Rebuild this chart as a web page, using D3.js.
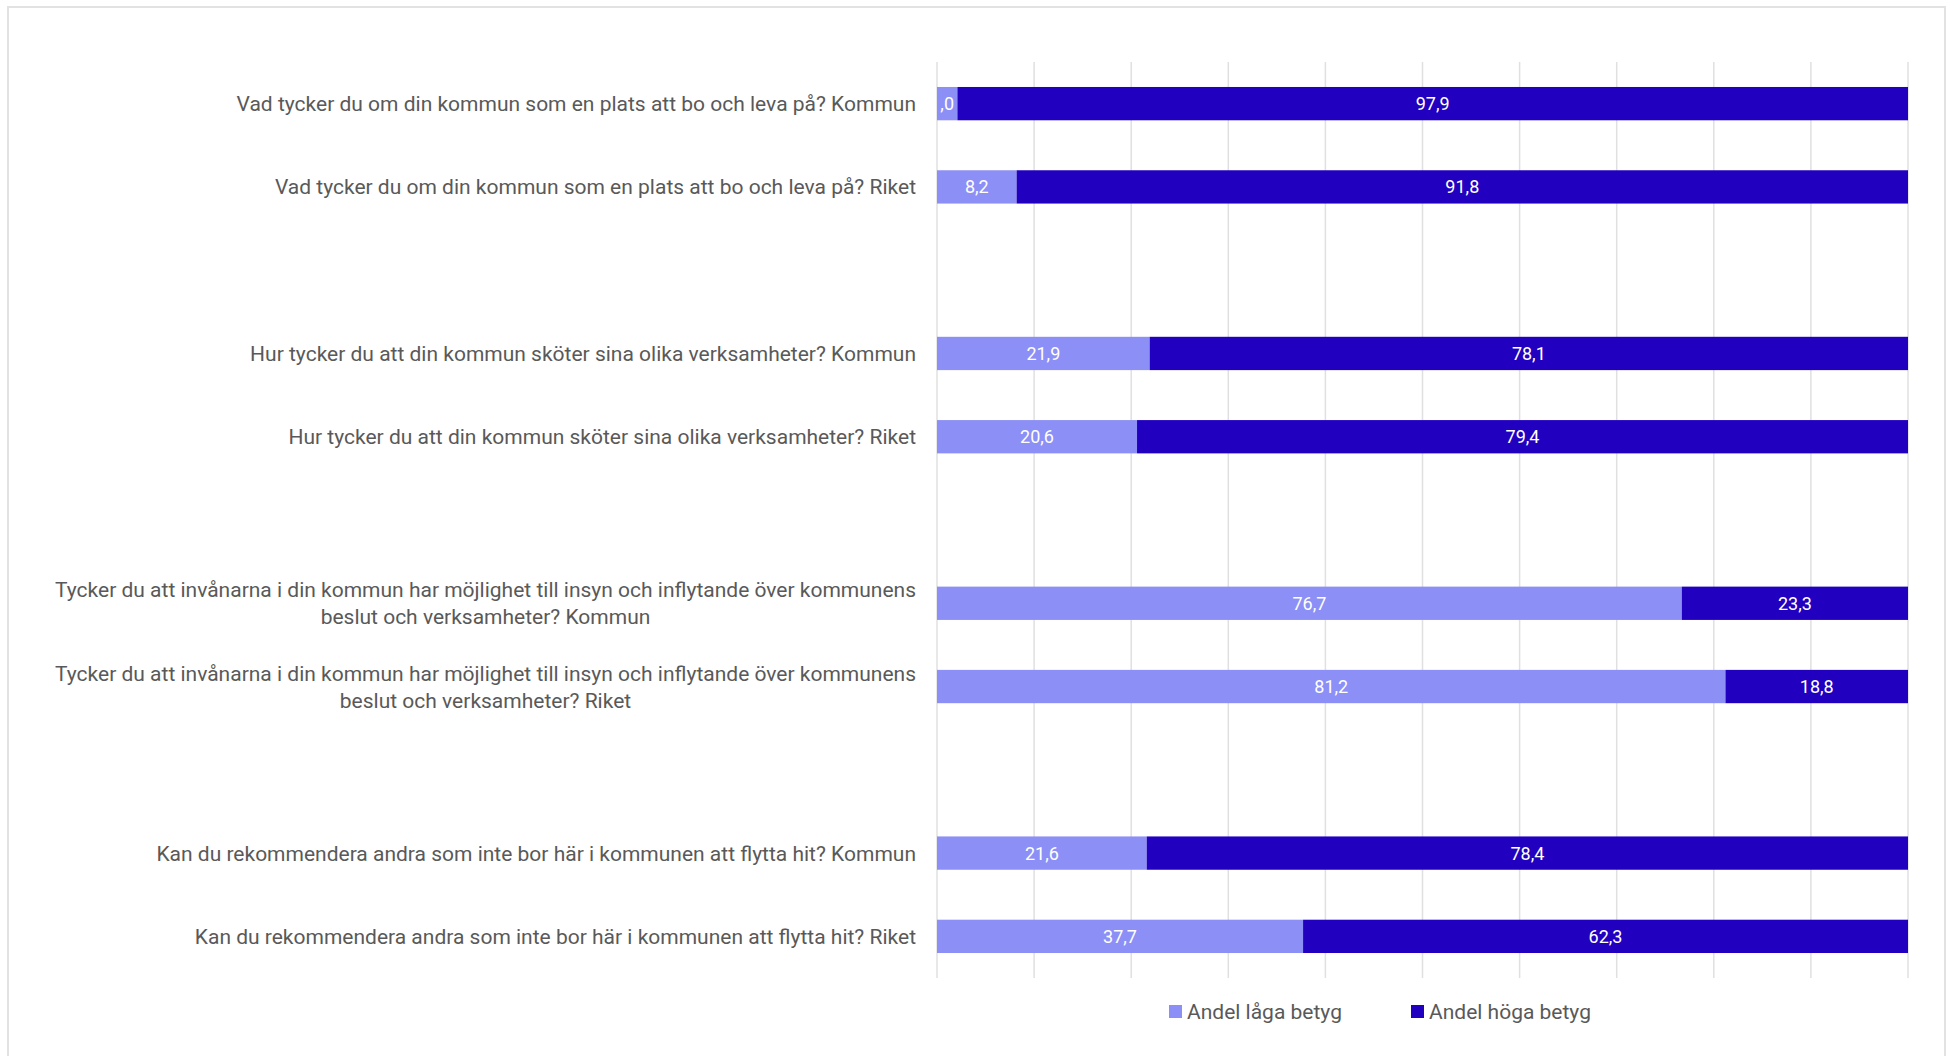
<!DOCTYPE html>
<html>
<head>
<meta charset="utf-8">
<script src="https://cdn.jsdelivr.net/npm/d3@7"></script>
<style>
  body { margin: 0; background: #fff; font-family: Roboto, "Noto Sans", sans-serif; }
</style>
</head>
<body>
<div id="chart"></div>
<script>
// categories (empty strings are the gaps between question groups)
const questions = [
  "Vad tycker du om din kommun som en plats att bo och leva på? Kommun",
  "Vad tycker du om din kommun som en plats att bo och leva på? Riket",
  "",
  "Hur tycker du att din kommun sköter sina olika verksamheter? Kommun",
  "Hur tycker du att din kommun sköter sina olika verksamheter? Riket",
  "",
  "Tycker du att invånarna i din kommun har möjlighet till insyn och inflytande över kommunens|beslut och verksamheter? Kommun",
  "Tycker du att invånarna i din kommun har möjlighet till insyn och inflytande över kommunens|beslut och verksamheter? Riket",
  "",
  "Kan du rekommendera andra som inte bor här i kommunen att flytta hit? Kommun",
  "Kan du rekommendera andra som inte bor här i kommunen att flytta hit? Riket"
]
const lowValues  = [2.1, 8.2, null, 21.9, 20.6, null, 76.7, 81.2, null, 21.6, 37.7]
const highValues = [97.9, 91.8, null, 78.1, 79.4, null, 23.3, 18.8, null, 78.4, 62.3]
const lowLabels  = [",0", "8,2", "", "21,9", "20,6", "", "76,7", "81,2", "", "21,6", "37,7"]
const highLabels = ["97,9", "91,8", "", "78,1", "79,4", "", "23,3", "18,8", "", "78,4", "62,3"]
const seriesNames = ["Andel låga betyg", "Andel höga betyg"]
const seriesColors = ["#8c8ff5", "#2200c0"]

const W = 1951, H = 1056
const margin = {top: 62, right: 43, bottom: 78, left: 937}

const svg = d3.select("#chart").append("svg").attr("width", W).attr("height", H)

// outer frame
svg.append("rect").attr("x", 8).attr("y", 7).attr("width", 1937).attr("height", H + 10)
  .attr("fill", "none").attr("stroke", "#e2e2e2").attr("stroke-width", 2)

const x = d3.scaleLinear().domain([0, 100]).range([margin.left, W - margin.right])
const y = d3.scaleBand().domain(d3.range(questions.length)).range([margin.top, H - margin.bottom]).paddingInner(0.6).paddingOuter(0.3)

// gridlines
svg.append("g").selectAll("line").data(d3.range(0, 101, 10)).join("line")
  .attr("x1", d => x(d)).attr("x2", d => x(d))
  .attr("y1", margin.top).attr("y2", H - margin.bottom)
  .attr("stroke", "#e0e0e0").attr("stroke-width", 1.5)

const rows = d3.range(questions.length).filter(i => lowValues[i] != null)

const g = svg.append("g")
rows.forEach(i => {
  const segs = [
    {x0: 0, x1: lowValues[i], c: seriesColors[0], label: lowLabels[i]},
    {x0: lowValues[i], x1: lowValues[i] + highValues[i], c: seriesColors[1], label: highLabels[i]}
  ]
  segs.forEach(s => {
    g.append("rect")
      .attr("x", x(s.x0)).attr("y", y(i))
      .attr("width", x(s.x1) - x(s.x0)).attr("height", y.bandwidth())
      .attr("fill", s.c)
  })
  segs.forEach(s => {
    const cx = (x(s.x0) + x(s.x1)) / 2
    const t = g.append("text")
      .attr("x", cx).attr("y", y(i) + y.bandwidth() / 2)
      .attr("dy", "0.36em").attr("text-anchor", "middle")
      .attr("font-size", 18).attr("fill", "#fff").text(s.label)
    const tw = t.node().getComputedTextLength()
    if (tw + 6 > x(s.x1) - x(s.x0)) {
      // narrow bar: label gets a little box in the series colour
      g.insert("rect", () => t.node())
        .attr("x", x(0) - tw / 2 - 3).attr("y", y(i) + 3)
        .attr("width", tw + 6).attr("height", y.bandwidth() - 6)
        .attr("fill", s.c)
      t.attr("x", x(0))
    }
  })
})

// category labels
const labelG = svg.append("g")
questions.forEach((q, i) => {
  if (!q) return
  const lines = q.split("|")
  const cy = y(i) + y.bandwidth() / 2
  if (lines.length == 1) {
    labelG.append("text").attr("x", 916).attr("y", cy).attr("dy", "0.36em")
      .attr("text-anchor", "end").attr("font-size", 21).attr("fill", "#595959").text(q)
  } else {
    const tmp = labelG.append("text").attr("font-size", 21).text(lines[0])
    const w = tmp.node().getComputedTextLength()
    tmp.remove()
    const mid = 916 - w / 2
    lines.forEach((l, k) => {
      labelG.append("text").attr("x", mid).attr("y", cy + (k - (lines.length - 1) / 2) * 27)
        .attr("dy", "0.36em").attr("text-anchor", "middle")
        .attr("font-size", 21).attr("fill", "#595959").text(l)
    })
  }
})

// legend
const legX = [1169, 1411]
const leg = svg.append("g")
seriesNames.forEach((n, k) => {
  leg.append("rect").attr("x", legX[k]).attr("y", 1005).attr("width", 13).attr("height", 13).attr("fill", seriesColors[k])
  leg.append("text").attr("x", legX[k] + 18).attr("y", 1011).attr("dy", "0.36em")
    .attr("font-size", 21).attr("fill", "#595959").text(n)
})
</script>
</body>
</html>
